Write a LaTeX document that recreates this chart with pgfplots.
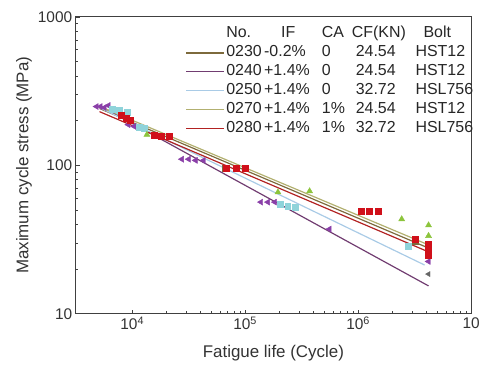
\documentclass[border=0pt]{standalone}
\usepackage{pgfplots}
\pgfplotsset{compat=1.18}
\usepackage{fontspec}
\setmainfont{Liberation Sans}
\definecolor{cA}{HTML}{7D6A3C}
\definecolor{cB}{HTML}{8E4C8E}
\definecolor{cC}{HTML}{A9CBE6}
\definecolor{cD}{HTML}{B2B070}
\definecolor{cE}{HTML}{B22222}
\definecolor{mB}{HTML}{8A3FA8}
\definecolor{mC}{HTML}{8FD3DA}
\definecolor{mD}{HTML}{8CC43C}
\definecolor{mE}{HTML}{D0101A}
\newcommand{\rowt}[5]{\makebox[38pt][l]{#1}\makebox[58pt][l]{#2}\makebox[34pt][l]{#3}\makebox[60pt][l]{#4}#5}
\begin{document}
\begin{tikzpicture}
\begin{axis}[name=ax,
  scale only axis, width=397pt, height=298pt,
  xmode=log, ymode=log,
  xmin=3162, xmax=1e7, ymin=10, ymax=1000,
  axis line style={black!75, line width=1.1pt},
  tick align=inside, tick pos=left,
  major tick length=4pt, minor tick length=2.5pt,
  tick style={black!75, line width=0.8pt},
  xtick={1e4,1e5,1e6,1e7},
  xticklabels={10\textsuperscript{4},10\textsuperscript{5},10\textsuperscript{6},10},
  ytick={10,100,1000}, yticklabels={10,100,1000},
  tick label style={font=\fontsize{15.5}{15.5}\selectfont, text=black!80},
  xlabel={Fatigue life (Cycle)}, ylabel={Maximum cycle stress (MPa)},
  label style={font=\fontsize{17}{17}\selectfont, text=black!80},
  xlabel style={at={(axis description cs:0.5,-0.134)}, anchor=center},
  ylabel style={at={(axis description cs:-0.131,0.5)}, anchor=center},
  legend cell align=left,
  legend style={draw=none, fill=none, inner sep=0pt, at={(axis description cs:0.278,0.975)}, anchor=north west,
    font=\fontsize{16}{16}\selectfont, text=black!85, row sep=0pt,
    nodes={inner sep=1.5pt, text height=12pt, text depth=4pt}},
  legend image code/.code={\draw[#1, line width=1.2pt] (0pt,0pt) -- (38pt,0pt);},
]
\addlegendimage{empty legend}
\addlegendentry{\rowt{No.}{\hspace{17pt}IF}{CA}{\hspace{-4pt}CF(KN)}{\hspace{8pt}Bolt}}
% fitted lines
\addplot[cA, line width=1.2pt] coordinates {(5140,241.5) (4.2e6,27.7)};
\addlegendentry{\rowt{0230}{-0.2\%}{0}{24.54}{HST12}}
\addplot[cB!80!black, line width=1.2pt] coordinates {(5140,253) (4.2e6,15.4)};
\addlegendentry{\rowt{0240}{+1.4\%}{0}{24.54}{HST12}}
\addplot[cC, line width=1.2pt] coordinates {(5140,245) (3.87e6,21.3)};
\addlegendentry{\rowt{0250}{+1.4\%}{0}{32.72}{HSL756}}
\addplot[cD, line width=1.2pt] coordinates {(5140,249) (4.2e6,29.1)};
\addlegendentry{\rowt{0270}{+1.4\%}{1\%}{24.54}{HST12}}
\addplot[cE, line width=1.2pt] coordinates {(5140,230) (4.2e6,26.1)};
\addlegendentry{\rowt{0280}{+1.4\%}{1\%}{32.72}{HSL756}}
% markers
\addplot[only marks, mark=square*, mark size=3pt, mark options={fill=cA, draw=cA}, forget plot]
  coordinates {(66000,96) (3.2e6,31)};
\addplot[only marks, mark=triangle*, mark size=3.5pt, mark options={rotate=90, fill=mB, draw=mB}, forget plot]
  coordinates {(4830,249) (5240,249) (5680,245) (6150,253) (9230,188) (10400,183)
  (27500,110) (31600,110) (36400,108) (42800,108)
  (138000,56.5) (159000,56.5) (183000,56.5) (557000,37.2) (4.2e6,22.5)};
\addplot[only marks, mark=triangle*, mark size=3pt, mark options={rotate=90, fill=black!60, draw=black!60}, forget plot]
  coordinates {(4.2e6,18.5)};
\addplot[only marks, mark=square*, mark size=3pt, mark options={fill=mC, draw=mC}, forget plot]
  coordinates {(6680,238) (7690,234) (9030,227) (11500,180) (12700,177)
  (203000,54.7) (238000,53.3) (275000,52.2) (2.8e6,28.6)};
\addplot[only marks, mark=triangle*, mark size=3.5pt, mark options={fill=mD, draw=mD}, forget plot]
  coordinates {(13500,161) (195000,65.9) (372000,67) (2.43e6,43.4) (4.2e6,39.5) (4.2e6,33.5)};
\addplot[only marks, mark=square*, mark size=3pt, mark options={fill=mE, draw=mE}, forget plot]
  coordinates {(8010,217) (8860,207) (9600,200) (15600,159) (18000,157) (21100,157)
  (68100,95.5) (83400,95.5) (100000,95.5)
  (1.06e6,49.1) (1.25e6,49.1) (1.5e6,49.1)
  (3.2e6,31.8) (4.2e6,29.5) (4.2e6,27) (4.2e6,24.8)};
\end{axis}
\path (ax.south west) ++(-76pt,-54pt) coordinate (bbA);
\path (ax.north east) ++(10pt,17pt) coordinate (bbB);
\path (bbA) rectangle (bbB);
\end{tikzpicture}
\end{document}
